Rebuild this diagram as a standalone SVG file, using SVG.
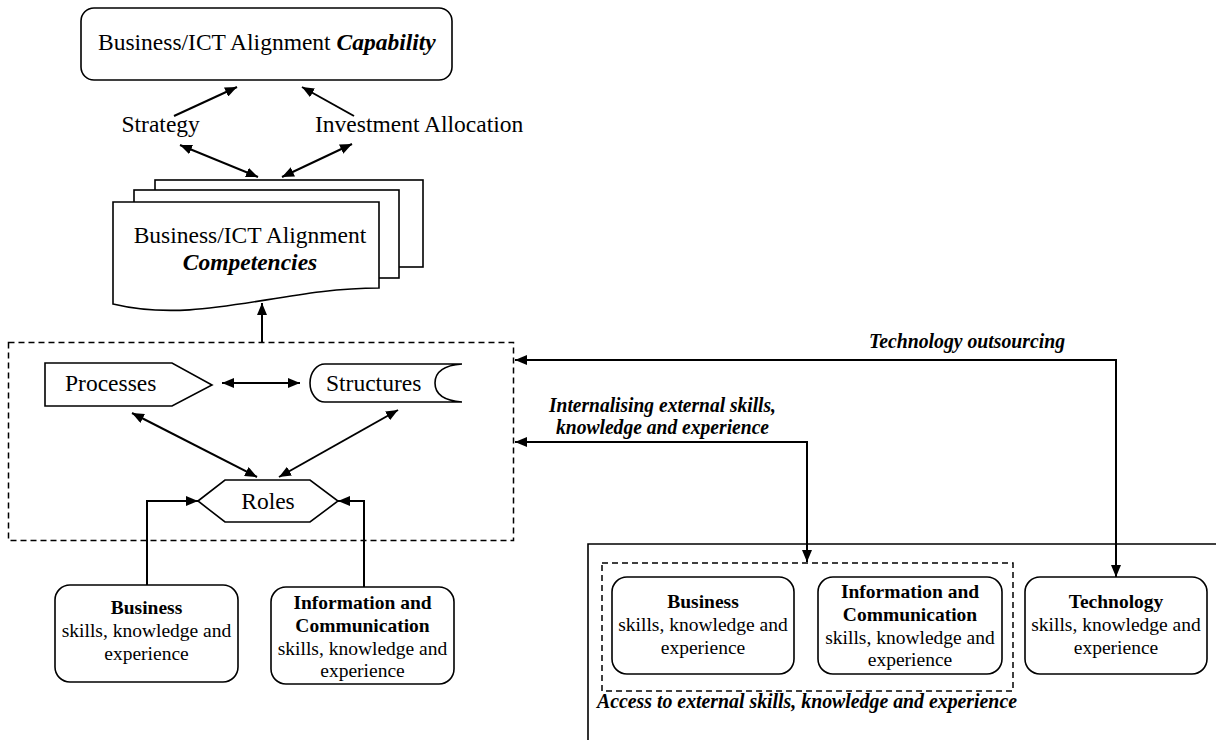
<svg xmlns="http://www.w3.org/2000/svg" width="1216" height="740" viewBox="0 0 1216 740">
<style>
text{font-family:"Liberation Serif",serif;fill:#000}
.big{font-size:23.5px}
.box{font-size:19.5px;text-anchor:middle}
.b{font-weight:bold}
.bi{font-weight:bold;font-style:italic}
.lbl{font-size:20px;font-weight:bold;font-style:italic}
.shape{fill:#fff;stroke:#000;stroke-width:1.6}
.dash{fill:none;stroke:#000;stroke-width:1.5;stroke-dasharray:6 4}
.con{fill:none;stroke:#000;stroke-width:2}
.one{marker-end:url(#ah)}
.two{marker-start:url(#ah);marker-end:url(#ah)}
</style>
<defs>
<marker id="ah" viewBox="0 0 12 10" refX="12" refY="5" markerWidth="12" markerHeight="10" markerUnits="userSpaceOnUse" orient="auto-start-reverse"><path d="M0,0 L12,5 L0,10 Z" fill="#000"/></marker>
</defs>
<rect width="1216" height="740" fill="#fff"/>

<g id="capability">
<rect class="shape" x="81" y="8" width="371" height="72" rx="13"/>
<text class="big" x="98" y="50">Business/ICT Alignment <tspan class="bi">Capability</tspan></text>
</g>

<g id="strategy"><text class="big" x="121.5" y="131.5">Strategy</text></g>
<g id="investment"><text class="big" x="315" y="131.5">Investment Allocation</text></g>

<g id="competencies">
<rect class="shape" x="155" y="180" width="268" height="87"/>
<rect class="shape" x="134" y="190" width="265" height="88"/>
<path class="shape" d="M113,202 L379,202 L379,288 C280,288 200,325 113,304 Z"/>
<text class="big" x="250" y="243" text-anchor="middle">Business/ICT Alignment</text>
<text class="big bi" x="250" y="270" text-anchor="middle">Competencies</text>
</g>

<g id="internal">
<rect class="dash" x="8.5" y="342.5" width="505" height="198"/>
</g>

<g id="processes">
<polygon class="shape" points="45,363 172,363 212,385 172,406 45,406"/>
<text class="big" x="65" y="391">Processes</text>
</g>

<g id="structures">
<path class="shape" d="M325,364 L462,364 Q435,366 435,383 Q435,400 462,402 L325,402 A15,19 0 0 1 325,364 Z"/>
<text class="big" x="326" y="391">Structures</text>
</g>

<g id="roles">
<polygon class="shape" points="198,501 225,480 310,480 338,501 310,522 225,522"/>
<text class="big" x="268" y="508.5" text-anchor="middle">Roles</text>
</g>

<g id="business-int">
<rect class="shape" x="55" y="585" width="183" height="97" rx="15"/>
<text class="box b" x="146.5" y="614">Business</text>
<text class="box" x="146.5" y="637">skills, knowledge and</text>
<text class="box" x="146.5" y="660">experience</text>
</g>

<g id="ic-int">
<rect class="shape" x="271" y="587" width="183" height="97" rx="15"/>
<text class="box b" x="362.5" y="609">Information and</text>
<text class="box b" x="362.5" y="632">Communication</text>
<text class="box" x="362.5" y="654.5">skills, knowledge and</text>
<text class="box" x="362.5" y="677">experience</text>
</g>

<g id="external">
<path d="M1216,544 L588,544 L588,740" fill="none" stroke="#000" stroke-width="1.6"/>
<rect class="dash" x="602" y="563" width="411" height="128"/>
<text class="lbl" x="597" y="708" textLength="420" lengthAdjust="spacingAndGlyphs">Access to external skills, knowledge and experience</text>
</g>

<g id="business-ext">
<rect class="shape" x="612" y="577" width="182" height="97" rx="15"/>
<text class="box b" x="703" y="607.5">Business</text>
<text class="box" x="703" y="630.5">skills, knowledge and</text>
<text class="box" x="703" y="653.5">experience</text>
</g>

<g id="ic-ext">
<rect class="shape" x="818" y="577" width="184" height="97" rx="15"/>
<text class="box b" x="910" y="598">Information and</text>
<text class="box b" x="910" y="621">Communication</text>
<text class="box" x="910" y="643.5">skills, knowledge and</text>
<text class="box" x="910" y="666">experience</text>
</g>

<g id="technology">
<rect class="shape" x="1025" y="577" width="182" height="97" rx="15"/>
<text class="box b" x="1116" y="607.5">Technology</text>
<text class="box" x="1116" y="630.5">skills, knowledge and</text>
<text class="box" x="1116" y="653.5">experience</text>
</g>

<g id="connectors">
<path class="con one" d="M174,116 L237,87"/>
<path class="con one" d="M354,116 L302,87"/>
<path class="con two" d="M180,145 L258,177"/>
<path class="con two" d="M352,144 L282,177"/>
<path class="con one" d="M262,342 L262,303"/>
<path class="con two" d="M222,383 L300,383"/>
<path class="con two" d="M132,413 L257,477"/>
<path class="con two" d="M398,410 L279,477"/>
<path class="con one" d="M147,585 L147,501 L198,501"/>
<path class="con one" d="M364,587 L364,501 L338,501"/>
<path class="con two" d="M515,360 L1116,360 L1116,577"/>
<path class="con two" d="M515,442 L807,442 L807,562"/>
<text class="lbl" x="869" y="348" textLength="196" lengthAdjust="spacingAndGlyphs">Technology outsourcing</text>
<text class="lbl" x="549" y="412" textLength="227" lengthAdjust="spacingAndGlyphs">Internalising external skills,</text>
<text class="lbl" x="556" y="434" textLength="213" lengthAdjust="spacingAndGlyphs">knowledge and experience</text>
</g>
</svg>
